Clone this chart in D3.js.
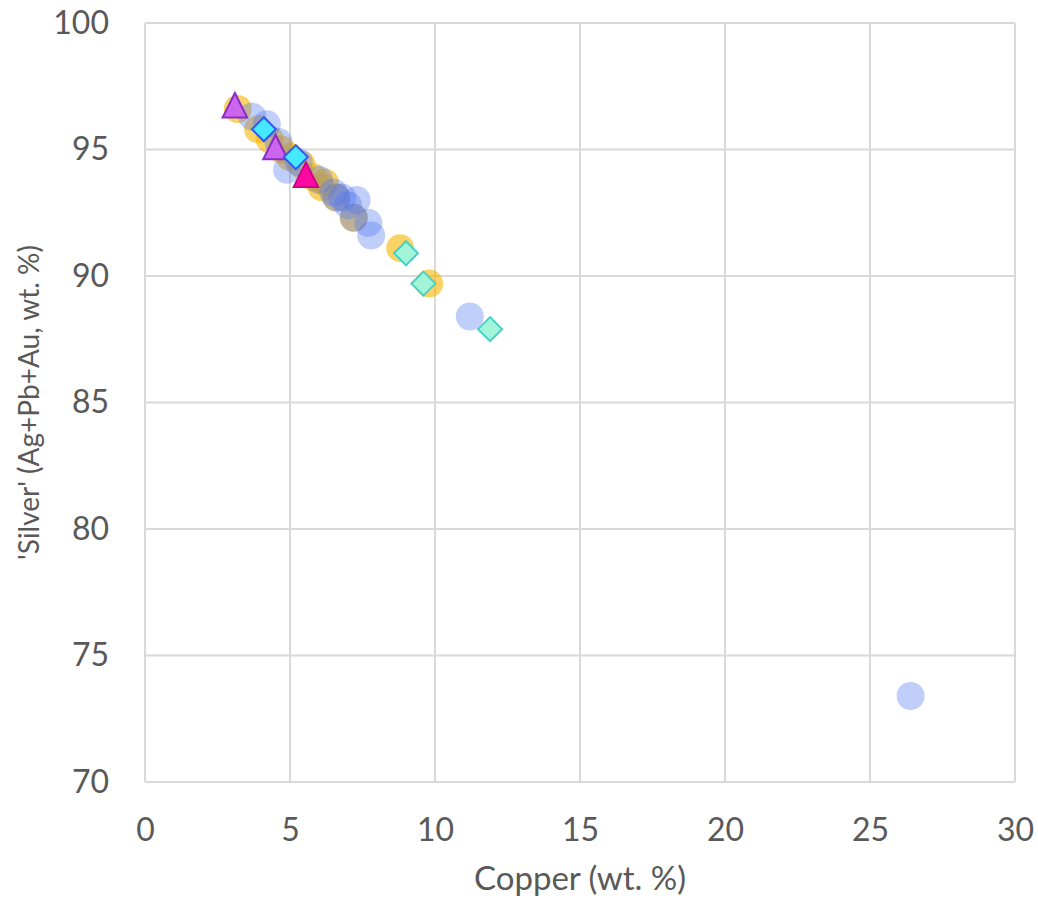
<!DOCTYPE html>
<html lang="en">
<head>
<meta charset="utf-8">
<title>Silver vs Copper</title>
<script src="https://d3js.org/d3.v7.min.js"></script>
<style>
  body { margin: 0; background: #fff; }
  text { font-family: Lato, "Open Sans", sans-serif; fill: #595959; }
</style>
</head>
<body>
<svg id="chart"></svg>
<script>
    // series: copper (x) / silver (y)
    const orangeCu = [3.2, 3.9, 4.3, 4.7, 5.0, 5.4, 5.8, 6.1, 6.2, 6.6, 7.2, 8.8, 9.8];
    const orangeAg = [96.6, 95.8, 95.4, 95.0, 94.7, 94.4, 93.9, 93.5, 93.7, 93.1, 92.3, 91.1, 89.7];
    const blueCu = [3.7, 4.2, 4.6, 4.9, 5.3, 6.0, 6.5, 6.6, 6.8, 7.0, 7.3, 7.2, 7.7, 7.8, 11.2, 26.4];
    const blueAg = [96.3, 96.0, 95.3, 94.2, 94.5, 93.8, 93.3, 93.1, 93.1, 92.8, 93.0, 92.3, 92.1, 91.6, 88.4, 73.4];
    const purpleCu = [3.1, 4.5];
    const purpleAg = [96.75, 95.1];
    const magentaCu = [5.55];
    const magentaAg = [94.0];
    const cyanCu = [4.1, 5.2];
    const cyanAg = [95.8, 94.7];
    const aquaCu = [9.0, 9.6, 11.9];
    const aquaAg = [90.9, 89.7, 87.9];
    const xTicks = [0, 5, 10, 15, 20, 25, 30];
    const yTicks = [70, 75, 80, 85, 90, 95, 100];

    let margin = {top: 23, right: 23, bottom: 119, left: 145},
        width = 1038,
        height = 901,
        chartWidth = width - margin.left - margin.right,
        chartHeight = height - margin.top - margin.bottom;

    let svg = d3.select("#chart").attr("width", width).attr("height", height);
    let chartArea = svg.append("g")
        .attr("transform", `translate(${margin.left},${margin.top})`);

    let x = d3.scaleLinear().domain([0, 30]).range([0, chartWidth]);
    let y = d3.scaleLinear().domain([70, 100]).range([chartHeight, 0]);

    // gridlines
    chartArea.append("g").selectAll("line").data(xTicks).join("line")
        .attr("x1", d => x(d)).attr("x2", d => x(d))
        .attr("y1", 0).attr("y2", chartHeight)
        .attr("stroke", "#d9d9d9").attr("stroke-width", 2);
    chartArea.append("g").selectAll("line").data(yTicks).join("line")
        .attr("x1", 0).attr("x2", chartWidth)
        .attr("y1", d => y(d)).attr("y2", d => y(d))
        .attr("stroke", "#d9d9d9").attr("stroke-width", 2);

    // axes (labels only)
    let xAxis = chartArea.append("g")
        .attr("transform", `translate(0,${chartHeight})`)
        .call(d3.axisBottom(x).tickValues(xTicks).tickSize(0).tickPadding(36));
    let yAxis = chartArea.append("g")
        .call(d3.axisLeft(y).tickValues(yTicks).tickSize(0).tickPadding(36));
    [xAxis, yAxis].forEach(a => {
        a.select(".domain").remove();
        a.selectAll("text").style("font-size", "32px").attr("fill", "#595959")
            .style("font-family", "Lato, 'Open Sans', sans-serif");
    });

    const zip = (xs, ys) => xs.map((v, i) => ({cu: v, ag: ys[i]}));

    function circles(data, fill, op) {
        chartArea.append("g").selectAll("circle").data(data).join("circle")
            .attr("cx", d => x(d.cu)).attr("cy", d => y(d.ag))
            .attr("r", 14)
            .attr("fill", fill).attr("fill-opacity", op);
    }
    circles(zip(orangeCu, orangeAg), "#f7b500", 0.6);
    circles(zip(blueCu, blueAg), "#5078f0", 0.36);

    function symbols(data, type, size, fill, stroke) {
        chartArea.append("g").selectAll("path").data(data).join("path")
            .attr("transform", d => `translate(${x(d.cu)},${y(d.ag)})`)
            .attr("d", d3.symbol().type(type).size(size))
            .attr("fill", fill).attr("stroke", stroke).attr("stroke-width", 2);
    }
    const triangle = {
        draw(ctx, size) {
            const s = Math.sqrt(size);
            ctx.moveTo(0, -s / 2);
            ctx.lineTo(s / 2, s / 2);
            ctx.lineTo(-s / 2, s / 2);
            ctx.closePath();
        }
    };
    const diamond = {
        draw(ctx, size) {
            const s = Math.sqrt(size) / 2;
            ctx.moveTo(0, -s);
            ctx.lineTo(s, 0);
            ctx.lineTo(0, s);
            ctx.lineTo(-s, 0);
            ctx.closePath();
        }
    };
    symbols(zip(aquaCu, aquaAg), diamond, 576, "#a2f5d6", "#45d2c8");
    symbols(zip(purpleCu, purpleAg), triangle, 600, "#cc66ee", "#8a2bc8");
    symbols(zip(cyanCu, cyanAg), diamond, 576, "#44e8ff", "#3358f0");
    symbols(zip(magentaCu, magentaAg), triangle, 600, "#ff0aa0", "#d0008a");

    // axis titles
    svg.append("text")
        .attr("x", margin.left + chartWidth / 2).attr("y", 890)
        .attr("text-anchor", "middle").style("font-size", "33px")
        .text("Copper (wt. %)");
    svg.append("text")
        .attr("transform", `translate(39,${margin.top + chartHeight / 2}) rotate(-90)`)
        .attr("text-anchor", "middle").style("font-size", "28px")
        .text("'Silver' (Ag+Pb+Au, wt. %)");
</script>
</body>
</html>
